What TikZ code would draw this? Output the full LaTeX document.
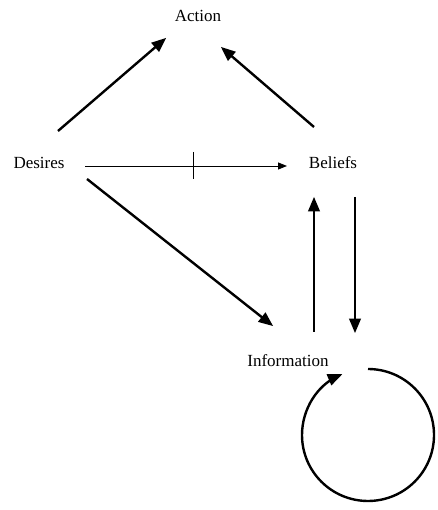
\documentclass[tikz,border=0pt]{standalone}
\usepackage{fontspec}
\setmainfont{Liberation Serif}
\usepackage{tikz}
\usetikzlibrary{calc}
\usetikzlibrary{arrows,arrows.meta}
\tikzstyle{every node}=[font=\fontsize{17}{20}\selectfont]
\tikzstyle{strong}=[->,line width=2.4pt]
\tikzstyle{weak}=[-{Triangle[length=9pt,width=7pt]},line width=0.9pt]

\begin{document}
\begin{tikzpicture}[line join=round,>=triangle 45,x=1.0pt,y=1.0pt]
            \useasboundingbox (0,0) rectangle (437,510);
            \node (action) at (198,494) {Action};
            \node (desires) at (39,347) {Desires};
            \node (beliefs) at (333,347) {Beliefs};
            \node (information) at (288,149) {Information};
            \draw [strong] ($(desires)+(19,32)$) -- ($(action)+(-32,-22)$);
            \draw [strong] ($(beliefs)+(-19,36)$) -- ($(action)+(23,-31)$);
            \draw [weak] ($(desires)+(46,-3)$) -- ($(beliefs)+(-46,-3)$) coordinate [pos=0.535] (cut);
            \draw [line width=0.9pt] ($(cut)+(0,14)$) -- ($(cut)+(0,-13)$);
            \draw [strong] ($(desires)+(48,-16)$) -- ($(information)+(-15,35)$);
            \draw [strong] ($(information)+(26,29)$) -- ($(beliefs)+(-19,-34)$);
            \draw [strong] ($(beliefs)+(22,-34)$) -- ($(information)+(67,28)$);
            \coordinate (loopstart) at ($(information)+(80,-8)$);
            \draw [strong] (loopstart) arc [start angle=90, end angle=-247, radius=66];
\end{tikzpicture}
\end{document}
